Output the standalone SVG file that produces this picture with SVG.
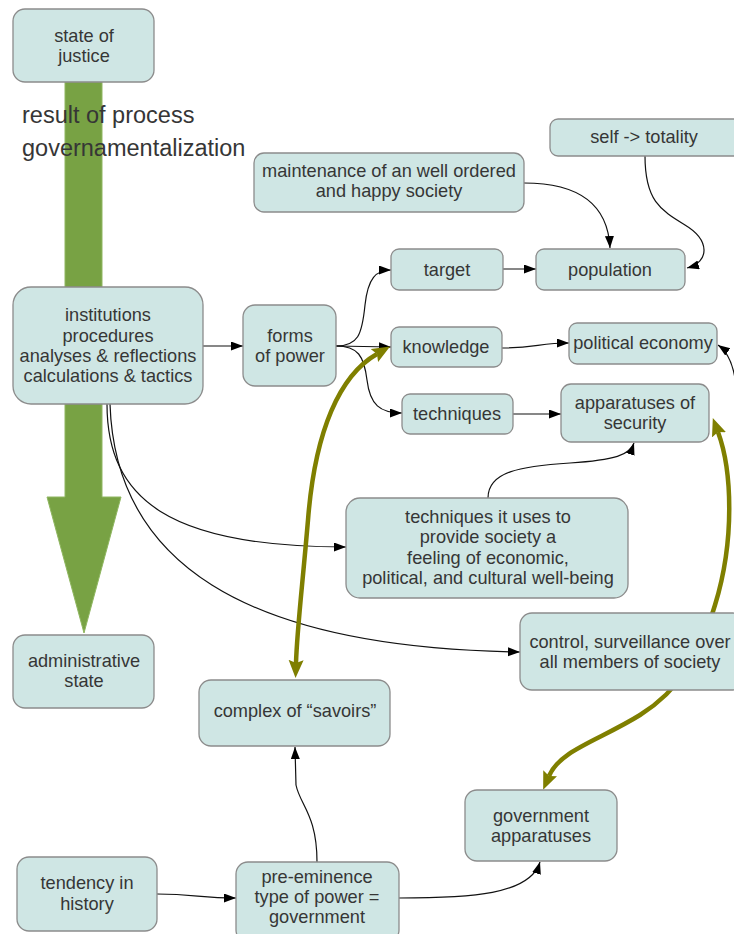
<svg xmlns="http://www.w3.org/2000/svg" width="734" height="934" viewBox="0 0 734 934">
  <style>
    .box { fill: #cfe6e4; stroke: #8c8c8c; stroke-width: 1.3; }
    .lbl { font-family: "Liberation Sans", Arial, sans-serif; font-size: 18.2px; fill: #363636; text-anchor: middle; }
    .big { font-family: "Liberation Sans", Arial, sans-serif; font-size: 23.5px; fill: #363636; }
    .edge { fill: none; stroke: #111; stroke-width: 1.2; marker-end: url(#arr); }
    .link { fill: none; stroke: #7f7f00; stroke-width: 4.5; marker-start: url(#oarr); marker-end: url(#oarr); }
  </style>
  <defs>
    <marker id="arr" markerUnits="userSpaceOnUse" markerWidth="13" markerHeight="10" refX="12" refY="4.5" orient="auto">
      <path d="M0,0 L12,4.5 L0,9 z" fill="#000"/>
    </marker>
    <marker id="oarr" markerUnits="userSpaceOnUse" markerWidth="20" markerHeight="16" refX="3" refY="7.5" orient="auto-start-reverse">
      <path d="M0,0 L18,7.5 L0,15 L3,7.5 z" fill="#7f7f00"/>
    </marker>
  </defs>

  <!-- broad process arrow -->
  <polygon points="65,82 102,82 102,497 121,497 84,633 47,497 65,497" fill="#78a244" stroke="#8fb660" stroke-width="1"/>
  <text class="big" x="22" y="123">result of process</text>
  <text class="big" x="22" y="156">governamentalization</text>

  <g id="connectors">
    <path class="edge" d="M203,346 L243,346"/>
    <path class="edge" d="M336,346 C358,346 362,335 365,305 C368,278 376,270 391,270"/>
    <path class="edge" d="M336,346 L391,347"/>
    <path class="edge" d="M336,346 C358,346 364,356 367,380 C370,405 380,413 402,413"/>
    <path class="edge" d="M503,269 L536,269"/>
    <path class="edge" d="M524,183 C580,183 608,205 610,248"/>
    <path class="edge" d="M645,156 C645,200 660,210 685,225 C710,240 710,262 687,268"/>
    <path class="edge" d="M502,348 C535,348 540,343 569,343"/>
    <path class="edge" d="M736,386 C734,366 728,352 718,345"/>
    <path class="edge" d="M513,414 L561,414"/>
    <path class="edge" d="M488,498 C488,472 520,466 570,463 C615,460 630,455 634,443"/>
    <path class="edge" d="M107,404 C107,500 170,547 346,547"/>
    <path class="edge" d="M110,404 C115,560 240,648 520,652"/>
    <path class="edge" d="M157,894 C195,894 200,898 236,898"/>
    <path class="edge" d="M317,862 C317,815 300,805 296,785 L295,747"/>
    <path class="edge" d="M399,898 C470,898 530,895 540,862"/>
    <path class="link" d="M377,354 C340,375 315,430 308,520 C302,590 297,630 296,663"/>
    <path class="link" d="M718,432 C732,470 735,540 715,605 C700,655 680,690 640,715 C600,740 560,750 549,776"/>
  </g>

  <g id="state-of-justice">
    <rect class="box" x="13" y="9" width="141" height="73" rx="12"/>
    <text class="lbl" x="84" y="42">state of</text>
    <text class="lbl" x="84" y="62">justice</text>
  </g>
  <g id="institutions">
    <rect class="box" x="13" y="287" width="190" height="117" rx="18"/>
    <text class="lbl" x="108" y="321">institutions</text>
    <text class="lbl" x="108" y="342">procedures</text>
    <text class="lbl" x="108" y="362">analyses &amp; reflections</text>
    <text class="lbl" x="108" y="382">calculations &amp; tactics</text>
  </g>
  <g id="forms-of-power">
    <rect class="box" x="243" y="305" width="93" height="81" rx="12"/>
    <text class="lbl" x="290" y="342">forms</text>
    <text class="lbl" x="290" y="362">of power</text>
  </g>
  <g id="maintenance">
    <rect class="box" x="254" y="153" width="270" height="59" rx="10"/>
    <text class="lbl" x="389" y="177">maintenance of an well ordered</text>
    <text class="lbl" x="389" y="197">and happy society</text>
  </g>
  <g id="self-totality">
    <rect class="box" x="550" y="119" width="200" height="37" rx="8"/>
    <text class="lbl" x="644" y="143">self -&gt; totality</text>
  </g>
  <g id="target">
    <rect class="box" x="391" y="249" width="112" height="41" rx="8"/>
    <text class="lbl" x="447" y="276">target</text>
  </g>
  <g id="population">
    <rect class="box" x="536" y="249" width="149" height="41" rx="8"/>
    <text class="lbl" x="610" y="276">population</text>
  </g>
  <g id="knowledge">
    <rect class="box" x="391" y="327" width="111" height="40" rx="8"/>
    <text class="lbl" x="446" y="353">knowledge</text>
  </g>
  <g id="political-economy">
    <rect class="box" x="569" y="323" width="148" height="41" rx="8"/>
    <text class="lbl" x="643" y="349">political economy</text>
  </g>
  <g id="techniques">
    <rect class="box" x="402" y="394" width="111" height="40" rx="8"/>
    <text class="lbl" x="457" y="420">techniques</text>
  </g>
  <g id="apparatuses-of-security">
    <rect class="box" x="561" y="384" width="148" height="58" rx="10"/>
    <text class="lbl" x="635" y="409">apparatuses of</text>
    <text class="lbl" x="635" y="429">security</text>
  </g>
  <g id="techniques-it-uses">
    <rect class="box" x="346" y="498" width="282" height="100" rx="14"/>
    <text class="lbl" x="488" y="523">techniques it uses to</text>
    <text class="lbl" x="488" y="543">provide society a </text>
    <text class="lbl" x="488" y="564">feeling of economic,</text>
    <text class="lbl" x="488" y="584">political, and cultural well-being</text>
  </g>
  <g id="control-surveillance">
    <rect class="box" x="520" y="613" width="225" height="77" rx="12"/>
    <text class="lbl" x="630" y="648">control, surveillance over</text>
    <text class="lbl" x="630" y="668">all members of society</text>
  </g>
  <g id="administrative-state">
    <rect class="box" x="13" y="635" width="141" height="73" rx="12"/>
    <text class="lbl" x="84" y="667">administrative</text>
    <text class="lbl" x="84" y="687">state</text>
  </g>
  <g id="complex-of-savoirs">
    <rect class="box" x="199" y="680" width="191" height="66" rx="12"/>
    <text class="lbl" x="295" y="717">complex of “savoirs”</text>
  </g>
  <g id="government-apparatuses">
    <rect class="box" x="465" y="790" width="152" height="71" rx="12"/>
    <text class="lbl" x="541" y="822">government</text>
    <text class="lbl" x="541" y="842">apparatuses</text>
  </g>
  <g id="tendency-in-history">
    <rect class="box" x="17" y="857" width="140" height="74" rx="12"/>
    <text class="lbl" x="87" y="889">tendency in</text>
    <text class="lbl" x="87" y="910">history</text>
  </g>
  <g id="pre-eminence">
    <rect class="box" x="236" y="862" width="163" height="80" rx="12"/>
    <text class="lbl" x="317" y="883">pre-eminence</text>
    <text class="lbl" x="317" y="903">type of power =</text>
    <text class="lbl" x="317" y="923">government</text>
  </g>
</svg>
